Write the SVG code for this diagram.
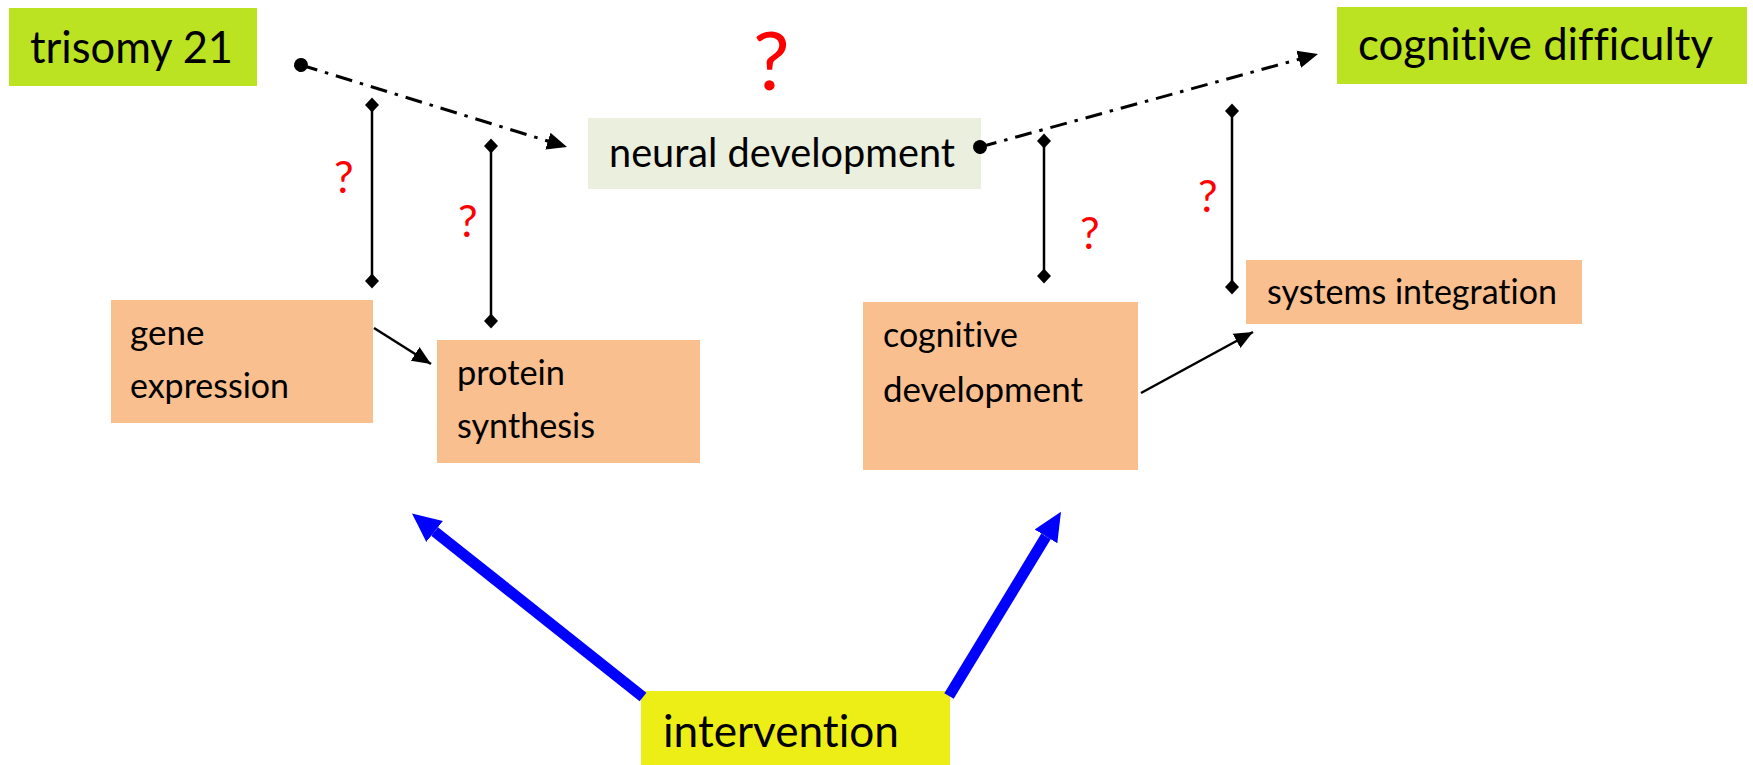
<svg xmlns="http://www.w3.org/2000/svg" width="1753" height="765" viewBox="0 0 1753 765">
<defs>
<style>
.t{font-family:Lato,"Open Sans","Liberation Sans",sans-serif;fill:#000;font-variant-ligatures:none;font-feature-settings:"liga" 0,"dlig" 0}
.q{font-family:Lato,"Open Sans","Liberation Sans",sans-serif;fill:#ff0000}
.lime{fill:#bce322}
.org{fill:#f9bf8f}
.dd{stroke:#000;stroke-width:3;fill:none;stroke-dasharray:17 8 3.5 8}
.ln{stroke:#000;stroke-width:2.5;fill:none}
.bl{stroke:#0000ff;stroke-width:11;fill:none}
</style>
<marker id="arr" markerUnits="userSpaceOnUse" markerWidth="20" markerHeight="20" viewBox="0 -8 17 16" refX="17" refY="0" orient="auto">
<path d="M0,-7.5 L17,0 L0,7.5 z" fill="#000"/>
</marker>
<marker id="arrS" markerUnits="userSpaceOnUse" markerWidth="20" markerHeight="20" viewBox="0 -8 16 16" refX="15" refY="0" orient="auto">
<path d="M0,-6.5 L15,0 L0,6.5 z" fill="#000"/>
</marker>
<marker id="dot" markerUnits="userSpaceOnUse" markerWidth="16" markerHeight="16" viewBox="-8 -8 16 16" refX="0" refY="0" orient="auto">
<circle r="7" fill="#000"/>
</marker>
<marker id="dia" markerUnits="userSpaceOnUse" markerWidth="16" markerHeight="16" viewBox="-8 -8 16 16" refX="0" refY="0">
<path d="M0,-7.5 L7,0 L0,7.5 L-7,0 z" fill="#000"/>
</marker>
<marker id="barr" markerUnits="userSpaceOnUse" markerWidth="30" markerHeight="30" viewBox="0 -12 26 24" refX="0" refY="0" orient="auto">
<path d="M0,-11.5 L25,0 L0,11.5 z" fill="#0000ff"/>
</marker>
</defs>
<rect width="1753" height="765" fill="#fff"/>

<g id="trisomy21">
<rect class="lime" x="9" y="8" width="248" height="78"/>
<text class="t" x="30" y="63" font-size="44" textLength="203" lengthAdjust="spacingAndGlyphs">trisomy 21</text>
</g>
<g id="cognitive-difficulty">
<rect class="lime" x="1337" y="7" width="410" height="77"/>
<text class="t" x="1358" y="60" font-size="44" textLength="355" lengthAdjust="spacingAndGlyphs">cognitive difficulty</text>
</g>
<g id="neural-development">
<rect fill="#ebefde" x="588" y="118" width="393" height="71"/>
<text class="t" x="609" y="167" font-size="40" textLength="346" lengthAdjust="spacingAndGlyphs">neural development</text>
</g>
<g id="gene-expression">
<rect class="org" x="111" y="300" width="262" height="123"/>
<text class="t" x="130" y="345" font-size="35">gene</text>
<text class="t" x="130" y="398" font-size="35" textLength="159" lengthAdjust="spacingAndGlyphs">expression</text>
</g>
<g id="protein-synthesis">
<rect class="org" x="437" y="340" width="263" height="123"/>
<text class="t" x="457" y="385" font-size="35" textLength="108" lengthAdjust="spacingAndGlyphs">protein</text>
<text class="t" x="457" y="438" font-size="35" textLength="138" lengthAdjust="spacingAndGlyphs">synthesis</text>
</g>
<g id="cognitive-development">
<rect class="org" x="863" y="302" width="275" height="168"/>
<text class="t" x="883" y="347" font-size="35" textLength="135" lengthAdjust="spacingAndGlyphs">cognitive</text>
<text class="t" x="883" y="402" font-size="35" textLength="200" lengthAdjust="spacingAndGlyphs">development</text>
</g>
<g id="systems-integration">
<rect class="org" x="1246" y="260" width="336" height="64"/>
<text class="t" x="1267" y="304" font-size="35" textLength="290" lengthAdjust="spacingAndGlyphs">systems integration</text>
</g>
<g id="intervention">
<rect fill="#eeee17" x="641" y="691" width="309" height="74"/>
<text class="t" x="663" y="747" font-size="44" textLength="236" lengthAdjust="spacingAndGlyphs">intervention</text>
</g>

<g id="question-marks">
<text class="q" x="753" y="90" font-size="82">?</text>
<text class="q" x="334" y="193" font-size="44">?</text>
<text class="q" x="458" y="237" font-size="44">?</text>
<text class="q" x="1080" y="249" font-size="44">?</text>
<text class="q" x="1198" y="212" font-size="44">?</text>
</g>

<g id="connectors">
<line class="dd" x1="301" y1="65" x2="567" y2="147" marker-start="url(#dot)" marker-end="url(#arr)"/>
<line class="dd" x1="980" y1="147" x2="1318" y2="54" marker-start="url(#dot)" marker-end="url(#arr)"/>
<line class="ln" x1="372" y1="105" x2="372" y2="281" marker-start="url(#dia)" marker-end="url(#dia)"/>
<line class="ln" x1="491" y1="146" x2="491" y2="321" marker-start="url(#dia)" marker-end="url(#dia)"/>
<line class="ln" x1="1044" y1="141" x2="1044" y2="276" marker-start="url(#dia)" marker-end="url(#dia)"/>
<line class="ln" x1="1232" y1="111" x2="1232" y2="287" marker-start="url(#dia)" marker-end="url(#dia)"/>
<line class="ln" x1="374" y1="328" x2="431" y2="364" marker-end="url(#arrS)"/>
<line class="ln" x1="1141" y1="393" x2="1253" y2="332" marker-end="url(#arrS)"/>
<line class="bl" x1="643" y1="697" x2="434.6" y2="531.5" marker-end="url(#barr)"/>
<line class="bl" x1="949" y1="696" x2="1046" y2="536.4" marker-end="url(#barr)"/>
</g>
</svg>
